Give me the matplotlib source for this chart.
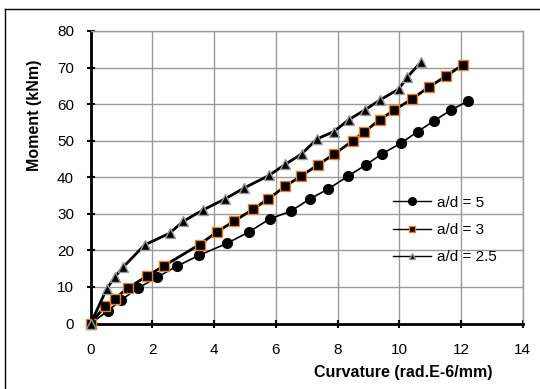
import matplotlib
matplotlib.use("Agg")
import matplotlib.pyplot as plt
from matplotlib.lines import Line2D

plt.rcParams['font.family'] = ['Liberation Sans', 'DejaVu Sans']

# a/d = 5 (circles)
x5 = [0, 0.55, 0.98, 1.54, 2.16, 2.80, 3.50, 4.41, 5.12, 5.80, 6.48, 7.11, 7.70,
      8.34, 8.92, 9.44, 10.05, 10.60, 11.14, 11.68, 12.24]
y5 = [0, 3.4, 6.4, 9.7, 12.7, 15.7, 18.6, 21.9, 25.0, 28.6, 30.7, 34.1, 36.8,
      40.3, 43.4, 46.4, 49.3, 52.5, 55.5, 58.4, 60.9]

# a/d = 3 (squares)
x3 = [0, 0.46, 0.78, 1.21, 1.81, 2.36, 3.53, 4.08, 4.65, 5.25, 5.76, 6.30, 6.81,
      7.37, 7.90, 8.50, 8.85, 9.36, 9.84, 10.41, 10.95, 11.52, 12.05]
y3 = [0, 4.7, 6.8, 9.7, 12.9, 15.7, 21.6, 25.0, 28.0, 31.2, 34.1, 37.5, 40.3,
      43.4, 46.4, 50.0, 52.3, 55.7, 58.4, 61.4, 64.6, 67.7, 70.7]

# a/d = 2.5 (triangles)
x25 = [0, 0.52, 0.78, 1.05, 1.75, 2.56, 2.99, 3.65, 4.36, 4.98, 5.78, 6.30, 6.84,
       7.34, 7.88, 8.36, 8.88, 9.39, 9.98, 10.25, 10.71]
y25 = [0, 9.5, 12.7, 15.4, 21.5, 24.7, 27.9, 31.1, 34.1, 37.1, 40.5, 43.5, 46.4,
       50.5, 52.5, 55.7, 58.4, 61.2, 64.1, 67.3, 71.6]

labels = ["a/d = 5", "a/d = 3", "a/d = 2.5"]
xticks = [0, 2, 4, 6, 8, 10, 12, 14]
yticks = [0, 10, 20, 30, 40, 50, 60, 70, 80]

FS = 11

fig = plt.figure(figsize=(5.4, 3.89), dpi=100)
ax = fig.add_axes([90.7 / 540, 1 - 323.5 / 389, (522.7 - 90.7) / 540, (323.5 - 31) / 389])

ax.plot(x5, y5, color='black', lw=1.2, marker='o', ms=7,
        mfc='black', mec='black', label=labels[0], zorder=3, clip_on=False)
ax.plot(x3, y3, color='black', lw=2.0, marker='s', ms=6.5,
        mfc='black', mec='#f07f22', mew=1.0, label=labels[1], zorder=4, clip_on=False)
ax.plot(x25, y25, color='black', lw=2.0, marker='^', ms=7,
        mfc='black', mec='#9a9a9a', mew=1.0, label=labels[2], zorder=5, clip_on=False)

ax.set_xlim(0, 14)
ax.set_ylim(0, 80)
ax.set_xticks(xticks)
ax.set_yticks(yticks)
ax.grid(True, color='#999999', lw=1.0)
ax.set_axisbelow(True)
for s in ['top', 'right']:
    ax.spines[s].set_color('#999999')
    ax.spines[s].set_linewidth(1.0)
for s in ['left', 'bottom']:
    ax.spines[s].set_color('black')
    ax.spines[s].set_linewidth(2.0)
ax.tick_params(direction='inout', length=6, width=1.5, labelsize=FS, colors='black')
ax.tick_params(axis='x', pad=11)
ax.tick_params(axis='y', pad=9)

ax.set_xlabel("Curvature (rad.E-6/mm)", fontsize=11.5, fontweight='bold')
ax.xaxis.label.set_va('center')
ax.xaxis.set_label_coords(0.723, -0.168)
ax.set_ylabel("Moment (kNm)", fontsize=11.5, fontweight='bold')
ax.yaxis.label.set(va='center', ha='center', rotation_mode='default')
ax.yaxis.set_label_coords(-0.131, 0.713)

handles = [
    Line2D([], [], color='black', lw=1.0, marker='o', ms=5.5, mfc='black', mec='black'),
    Line2D([], [], color='black', lw=1.0, marker='s', ms=5, mfc='black', mec='#f07f22', mew=1.0),
    Line2D([], [], color='black', lw=1.0, marker='^', ms=4.5, mfc='black', mec='#9a9a9a', mew=1.0),
]
ax.legend(handles, labels, loc='upper left', bbox_to_anchor=((393 - 90.7) / 432, 0.437),
          frameon=False, fontsize=FS, handlelength=2.5, handletextpad=0.4,
          labelspacing=0.87, borderaxespad=0, borderpad=0)

fig.add_artist(Line2D([5 / 540, 5 / 540], [0, 1 - 9 / 389], color='black', lw=1.0,
                      transform=fig.transFigure))
fig.add_artist(Line2D([5 / 540, 1], [1 - 9 / 389, 1 - 9 / 389], color='black', lw=1.0,
                      transform=fig.transFigure))

fig.savefig("out.png", dpi=100)
